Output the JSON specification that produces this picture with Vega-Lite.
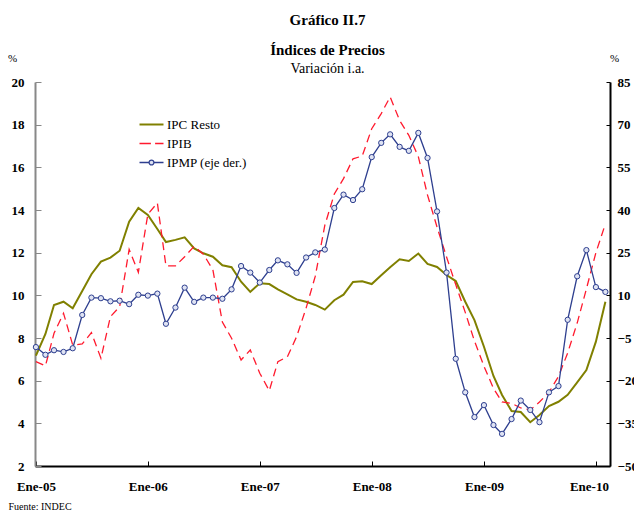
{
  "$schema": "https://vega.github.io/schema/vega-lite/v6.json",
  "width": 575,
  "height": 384,
  "autosize": {"type": "none"},
  "padding": {"left": 35, "top": 82, "right": 24, "bottom": 47},
  "background": "white",
  "config": {"view": {"stroke": null}, "font": "Liberation Serif"},
  "title": {
    "text": ["Gráfico II.7", "Índices de Precios"],
    "subtitle": "Variación i.a.",
    "font": "Liberation Serif",
    "fontSize": 15,
    "fontWeight": "bold",
    "lineHeight": 30,
    "color": "black",
    "subtitleFont": "Liberation Serif",
    "subtitleFontSize": 14,
    "subtitleColor": "black",
    "subtitlePadding": 4,
    "anchor": "middle",
    "dx": 5,
    "offset": -24
  },
  "data": {
    "values": [
      {"fecha": "2005-01-01", "ipc": 7.17, "ipib": 6.89, "ipmp": -8.2},
      {"fecha": "2005-02-01", "ipc": 8.19, "ipib": 6.69, "ipmp": -10.9},
      {"fecha": "2005-03-01", "ipc": 9.55, "ipib": 8.22, "ipmp": -9.3},
      {"fecha": "2005-04-01", "ipc": 9.70, "ipib": 9.16, "ipmp": -9.9},
      {"fecha": "2005-05-01", "ipc": 9.39, "ipib": 7.67, "ipmp": -8.6},
      {"fecha": "2005-06-01", "ipc": 10.2, "ipib": 7.72, "ipmp": 3.1},
      {"fecha": "2005-07-01", "ipc": 10.99, "ipib": 8.25, "ipmp": 9.2},
      {"fecha": "2005-08-01", "ipc": 11.58, "ipib": 7.05, "ipmp": 9.0},
      {"fecha": "2005-09-01", "ipc": 11.77, "ipib": 9.0, "ipmp": 7.9},
      {"fecha": "2005-10-01", "ipc": 12.09, "ipib": 9.47, "ipmp": 8.1},
      {"fecha": "2005-11-01", "ipc": 13.45, "ipib": 12.15, "ipmp": 6.9},
      {"fecha": "2005-12-01", "ipc": 14.1, "ipib": 11.08, "ipmp": 10.2},
      {"fecha": "2006-01-01", "ipc": 13.77, "ipib": 13.8, "ipmp": 9.9},
      {"fecha": "2006-02-01", "ipc": 13.11, "ipib": 14.33, "ipmp": 10.6},
      {"fecha": "2006-03-01", "ipc": 12.5, "ipib": 11.38, "ipmp": 0.0},
      {"fecha": "2006-04-01", "ipc": 12.6, "ipib": 11.38, "ipmp": 5.7},
      {"fecha": "2006-05-01", "ipc": 12.72, "ipib": 11.81, "ipmp": 12.7},
      {"fecha": "2006-06-01", "ipc": 12.2, "ipib": 12.3, "ipmp": 7.7},
      {"fecha": "2006-07-01", "ipc": 11.97, "ipib": 11.93, "ipmp": 9.2},
      {"fecha": "2006-08-01", "ipc": 11.81, "ipib": 11.2, "ipmp": 9.2},
      {"fecha": "2006-09-01", "ipc": 11.41, "ipib": 8.75, "ipmp": 8.8},
      {"fecha": "2006-10-01", "ipc": 11.32, "ipib": 7.99, "ipmp": 12.1},
      {"fecha": "2006-11-01", "ipc": 10.64, "ipib": 6.97, "ipmp": 20.3},
      {"fecha": "2006-12-01", "ipc": 10.16, "ipib": 7.44, "ipmp": 18.0},
      {"fecha": "2007-01-01", "ipc": 10.57, "ipib": 6.35, "ipmp": 14.5},
      {"fecha": "2007-02-01", "ipc": 10.53, "ipib": 5.53, "ipmp": 18.9},
      {"fecha": "2007-03-01", "ipc": 10.28, "ipib": 6.89, "ipmp": 22.3},
      {"fecha": "2007-04-01", "ipc": 10.05, "ipib": 7.12, "ipmp": 20.9},
      {"fecha": "2007-05-01", "ipc": 9.81, "ipib": 8.06, "ipmp": 17.9},
      {"fecha": "2007-06-01", "ipc": 9.70, "ipib": 9.4, "ipmp": 23.3},
      {"fecha": "2007-07-01", "ipc": 9.55, "ipib": 10.9, "ipmp": 25.1},
      {"fecha": "2007-08-01", "ipc": 9.33, "ipib": 13.28, "ipmp": 26.1},
      {"fecha": "2007-09-01", "ipc": 9.77, "ipib": 14.75, "ipmp": 40.7},
      {"fecha": "2007-10-01", "ipc": 10.03, "ipib": 15.47, "ipmp": 45.4},
      {"fecha": "2007-11-01", "ipc": 10.63, "ipib": 16.4, "ipmp": 43.5},
      {"fecha": "2007-12-01", "ipc": 10.66, "ipib": 16.53, "ipmp": 47.3},
      {"fecha": "2008-01-01", "ipc": 10.53, "ipib": 17.81, "ipmp": 58.6},
      {"fecha": "2008-02-01", "ipc": 10.94, "ipib": 18.52, "ipmp": 63.6},
      {"fecha": "2008-03-01", "ipc": 11.32, "ipib": 19.3, "ipmp": 66.6},
      {"fecha": "2008-04-01", "ipc": 11.69, "ipib": 18.2, "ipmp": 62.2},
      {"fecha": "2008-05-01", "ipc": 11.61, "ipib": 17.5, "ipmp": 60.8},
      {"fecha": "2008-06-01", "ipc": 11.96, "ipib": 16.5, "ipmp": 67.1},
      {"fecha": "2008-07-01", "ipc": 11.47, "ipib": 14.7, "ipmp": 58.3},
      {"fecha": "2008-08-01", "ipc": 11.33, "ipib": 13.2, "ipmp": 39.5},
      {"fecha": "2008-09-01", "ipc": 10.95, "ipib": 11.8, "ipmp": 18.0},
      {"fecha": "2008-10-01", "ipc": 10.67, "ipib": 10.5, "ipmp": -12.3},
      {"fecha": "2008-11-01", "ipc": 9.70, "ipib": 9.2, "ipmp": -24.1},
      {"fecha": "2008-12-01", "ipc": 8.84, "ipib": 7.86, "ipmp": -32.8},
      {"fecha": "2009-01-01", "ipc": 7.59, "ipib": 6.68, "ipmp": -28.6},
      {"fecha": "2009-02-01", "ipc": 6.22, "ipib": 5.64, "ipmp": -35.6},
      {"fecha": "2009-03-01", "ipc": 5.33, "ipib": 5.0, "ipmp": -38.7},
      {"fecha": "2009-04-01", "ipc": 4.58, "ipib": 4.94, "ipmp": -33.5},
      {"fecha": "2009-05-01", "ipc": 4.53, "ipib": 4.72, "ipmp": -27.0},
      {"fecha": "2009-06-01", "ipc": 4.05, "ipib": 4.63, "ipmp": -30.3},
      {"fecha": "2009-07-01", "ipc": 4.39, "ipib": 5.0, "ipmp": -34.6},
      {"fecha": "2009-08-01", "ipc": 4.81, "ipib": 5.45, "ipmp": -24.1},
      {"fecha": "2009-09-01", "ipc": 5.01, "ipib": 6.2, "ipmp": -21.9},
      {"fecha": "2009-10-01", "ipc": 5.34, "ipib": 7.3, "ipmp": 1.4},
      {"fecha": "2009-11-01", "ipc": 5.92, "ipib": 8.7, "ipmp": 16.7},
      {"fecha": "2009-12-01", "ipc": 6.50, "ipib": 10.3, "ipmp": 25.9},
      {"fecha": "2010-01-01", "ipc": 7.83, "ipib": 12.0, "ipmp": 12.9},
      {"fecha": "2010-02-01", "ipc": 9.70, "ipib": 13.35, "ipmp": 11.2}
    ]
  },
  "encoding": {
    "x": {
      "field": "fecha",
      "type": "temporal",
      "scale": {
        "type": "utc",
        "domain": [
          {"year": 2004, "month": 12, "date": 29, "utc": true},
          {"year": 2010, "month": 2, "date": 16, "utc": true}
        ]
      },
      "axis": {
        "values": [
          {"year": 2005, "month": 1, "date": 1, "utc": true},
          {"year": 2006, "month": 1, "date": 1, "utc": true},
          {"year": 2007, "month": 1, "date": 1, "utc": true},
          {"year": 2008, "month": 1, "date": 1, "utc": true},
          {"year": 2009, "month": 1, "date": 1, "utc": true},
          {"year": 2010, "month": 1, "date": 1, "utc": true}
        ],
        "labelExpr": "'Ene-' + utcFormat(datum.value, '%y')",
        "labelOffset": {"condition": {"test": "utcyear(datum.value) === 2010", "value": -7}, "value": 0},
        "title": "Fuente: INDEC",
        "titleX": -27,
        "titleY": 40,
        "titleAlign": "left",
        "titleBaseline": "middle",
        "titleFont": "Liberation Serif",
        "titleFontSize": 10,
        "titleFontWeight": "normal",
        "titleColor": "black",
        "labelFont": "Liberation Serif",
        "labelFontSize": 13,
        "labelFontWeight": "bold",
        "labelColor": "black",
        "labelOverlap": false,
        "labelFlush": false,
        "domainColor": "black",
        "domainWidth": 2,
        "tickColor": "black",
        "tickWidth": 1,
        "tickSize": -5,
        "labelPadding": 19,
        "grid": false
      }
    }
  },
  "layer": [
    {
      "layer": [
        {
          "mark": {"type": "line", "strokeWidth": 2},
          "encoding": {
            "y": {
              "field": "ipc",
              "type": "quantitative",
              "scale": {"domain": [2, 20], "nice": false, "zero": false},
              "axis": {
                "orient": "left",
                "title": "%",
                "titleAngle": 0,
                "titleX": -23,
                "titleY": -24,
                "titleAlign": "center",
                "titleBaseline": "middle",
                "titleFont": "Liberation Serif",
                "titleFontSize": 11,
                "titleFontWeight": "normal",
                "titleColor": "black",
                "values": [2, 4, 6, 8, 10, 12, 14, 16, 18, 20],
                "labelFont": "Liberation Serif",
                "labelFontSize": 13,
                "labelFontWeight": "bold",
                "labelColor": "black",
                "domainColor": "#888888",
                "domainWidth": 2,
                "tickColor": "#888888",
                "tickWidth": 1,
                "tickSize": -6,
                "labelPadding": 17,
                "grid": false
              }
            },
            "color": {
              "datum": "IPC Resto",
              "type": "nominal",
              "scale": {"domain": ["IPC Resto", "IPIB", "IPMP (eje der.)"], "range": ["#808000", "#ff1a2e", "#2e3f8f"]},
              "legend": {
                "title": null,
                "orient": "none",
                "legendX": 110,
                "legendY": 36,
                "labelFont": "Liberation Serif",
                "labelFontSize": 13,
                "labelColor": "black",
                "labelOffset": 9,
                "rowPadding": 5,
                "symbolSize": 144,
                "encode": {
                  "symbols": {
                    "update": {
                      "shape": {"signal": "datum.value === 'IPC Resto' ? 'M-2,0H2' : datum.value === 'IPIB' ? 'M-2,0H-0.1M0.6,0H2' : 'M-2,0H-0.4M0.4,0H2M0.4,0A0.4,0.4,0,1,1,-0.4,0A0.4,0.4,0,1,1,0.4,0'"},
                      "strokeWidth": {"signal": "datum.value === 'IPC Resto' ? 2 : 1.3"},
                      "fill": {"signal": "datum.value === 'IPMP (eje der.)' ? '#dfe3f3' : 'transparent'"},
                      "size": {"value": 144}
                    }
                  }
                }
              }
            }
          }
        },
        {
          "mark": {"type": "line", "strokeWidth": 1.3, "strokeDash": [8, 5]},
          "encoding": {
            "y": {
              "field": "ipib",
              "type": "quantitative",
              "scale": {"domain": [2, 20], "nice": false, "zero": false},
              "axis": {
                "orient": "left",
                "title": "%",
                "titleAngle": 0,
                "titleX": -23,
                "titleY": -24,
                "titleAlign": "center",
                "titleBaseline": "middle",
                "titleFont": "Liberation Serif",
                "titleFontSize": 11,
                "titleFontWeight": "normal",
                "titleColor": "black",
                "values": [2, 4, 6, 8, 10, 12, 14, 16, 18, 20],
                "labelFont": "Liberation Serif",
                "labelFontSize": 13,
                "labelFontWeight": "bold",
                "labelColor": "black",
                "domainColor": "#888888",
                "domainWidth": 2,
                "tickColor": "#888888",
                "tickWidth": 1,
                "tickSize": -6,
                "labelPadding": 17,
                "grid": false
              }
            },
            "color": {
              "datum": "IPIB",
              "type": "nominal",
              "scale": {"domain": ["IPC Resto", "IPIB", "IPMP (eje der.)"], "range": ["#808000", "#ff1a2e", "#2e3f8f"]}
            }
          }
        }
      ]
    },
    {
      "layer": [
        {
          "mark": {"type": "line", "strokeWidth": 1.3},
          "encoding": {
            "y": {
              "field": "ipmp",
              "type": "quantitative",
              "scale": {"domain": [-50, 85], "nice": false, "zero": false},
              "axis": {
                "orient": "right",
                "title": "%",
                "titleAngle": 0,
                "titleX": 4,
                "titleY": -24,
                "titleAlign": "center",
                "titleBaseline": "middle",
                "titleFont": "Liberation Serif",
                "titleFontSize": 11,
                "titleFontWeight": "normal",
                "titleColor": "black",
                "values": [-50, -35, -20, -5, 10, 25, 40, 55, 70, 85],
                "labelFont": "Liberation Serif",
                "labelFontSize": 13,
                "labelFontWeight": "bold",
                "labelColor": "black",
                "domainColor": "black",
                "domainWidth": 2,
                "tickColor": "black",
                "tickWidth": 1,
                "tickSize": -4,
                "labelPadding": 11,
                "grid": false
              }
            },
            "color": {
              "datum": "IPMP (eje der.)",
              "type": "nominal",
              "scale": {"domain": ["IPC Resto", "IPIB", "IPMP (eje der.)"], "range": ["#808000", "#ff1a2e", "#2e3f8f"]}
            }
          }
        },
        {
          "mark": {"type": "point", "shape": "circle", "filled": true, "fill": "#dfe3f3", "stroke": "#2e3f8f", "strokeWidth": 1, "size": 28, "opacity": 1},
          "encoding": {
            "y": {
              "field": "ipmp",
              "type": "quantitative",
              "scale": {"domain": [-50, 85], "nice": false, "zero": false}
            }
          }
        }
      ]
    }
  ],
  "resolve": {"scale": {"y": "independent"}}
}
